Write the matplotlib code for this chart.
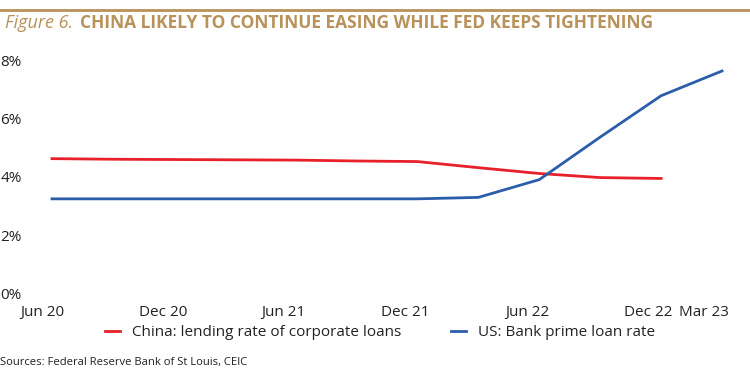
import numpy as np
import matplotlib
matplotlib.use("Agg")
import matplotlib.pyplot as plt
from matplotlib.transforms import ScaledTranslation
from matplotlib.lines import Line2D

# quarterly points, Jun 20 .. Mar 23
quarters = ["Jun 20", "Sep 20", "Dec 20", "Mar 21", "Jun 21", "Sep 21",
            "Dec 21", "Mar 22", "Jun 22", "Sep 22", "Dec 22", "Mar 23"]
china = [4.63, 4.61, 4.60, 4.59, 4.58, 4.55, 4.53, 4.32, 4.12, 3.98, 3.95, np.nan]
us = [3.25, 3.25, 3.25, 3.25, 3.25, 3.25, 3.25, 3.30, 3.91, 5.37, 6.79, 7.64]
tick_labels = ["Jun 20", "Dec 20", "Jun 21", "Dec 21", "Jun 22", "Dec 22", "Mar 23"]
y_ticks = [0, 2, 4, 6, 8]

gold = "#B8925A"
red = "#E8202A"
blue = "#2B5DAA"
font = ["Open Sans", "DejaVu Sans"]
plt.rcParams["font.family"] = font

fig = plt.figure(figsize=(7.5, 3.87), dpi=100)
W, H = 750, 387

# axes from Jun 20 (x=52) to Mar 23 (x=722), 0% at y=293.5, 8% at y=60.5
ax = fig.add_axes([52 / W, (H - 293.5) / H, 670 / W, 233 / H])
x = np.arange(len(quarters))
ax.plot(x, china, color=red, lw=2, clip_on=False)
ax.plot(x, us, color=blue, lw=2, clip_on=False)
ax.set_xlim(0, len(quarters) - 1)
ax.set_ylim(0, 8)
for s in ax.spines.values():
    s.set_visible(False)

ax.set_yticks(y_ticks)
ax.set_yticklabels([f"{v}%" for v in y_ticks], fontsize=11, color="#222222", ha="left")
ax.tick_params(axis="y", length=0, pad=37.2)

tick_pos = [quarters.index(t) for t in tick_labels]
ax.set_xticks(tick_pos)
ax.set_xticklabels(tick_labels, fontsize=11, color="#222222")
ax.tick_params(axis="x", length=0, pad=8)
shifts = [-10, -11, -12, -12, -12, -13, -18]
for lab, dx in zip(ax.get_xticklabels(), shifts):
    lab.set_transform(lab.get_transform() + ScaledTranslation(dx / 100, 0, fig.dpi_scale_trans))

# top rule and title
fig.add_artist(Line2D([0, 1], [1 - 10 / H, 1 - 10 / H], color=gold, lw=2, transform=fig.transFigure))
t1 = fig.text(5 / W, 1 - 23 / H, "Figure 6.", color=gold, fontsize=13, style="italic", va="center")
fig.canvas.draw()
bb = t1.get_window_extent()
fig.text(bb.x1 / W + 7 / W, 1 - 23 / H, "CHINA LIKELY TO CONTINUE EASING WHILE FED KEEPS TIGHTENING",
         color=gold, fontsize=12.5, weight="bold", va="center")

# legend
handles = [Line2D([], [], color=red, lw=2), Line2D([], [], color=blue, lw=2)]
fig.legend(handles, ["China: lending rate of corporate loans", "US: Bank prime loan rate"],
           loc="center", bbox_to_anchor=(380 / W, 1 - 333 / H), ncol=2, frameon=False,
           fontsize=11, handlelength=1.0, handletextpad=0.8, columnspacing=3.2,
           labelcolor="#222222")

fig.text(0, 1 - 363 / H, "Sources: Federal Reserve Bank of St Louis, CEIC", fontsize=8.1,
         color="#222222", va="center")

fig.savefig("out.png", dpi=100)
